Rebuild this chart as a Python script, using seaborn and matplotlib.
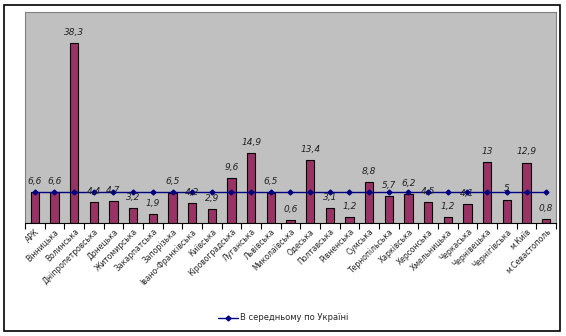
import matplotlib
matplotlib.use("Agg")
import matplotlib.pyplot as plt
import seaborn as sns
import numpy as np
import pandas as pd
from matplotlib.patches import Rectangle

regions = ["АРК", "Вінницька", "Волинська", "Дніпропетровська", "Донецька",
           "Житомирська", "Закарпатська", "Запорізька", "Івано-Франківська",
           "Київська", "Кіровоградська", "Луганська", "Львівська",
           "Миколаївська", "Одеська", "Полтавська", "Рівненська", "Сумська",
           "Тернопільська", "Харківська", "Херсонська", "Хмельницька",
           "Черкаська", "Чернівецька", "Чернігівська", "м.Київ",
           "м.Севастополь"]
values = [6.6, 6.6, 38.3, 4.4, 4.7, 3.2, 1.9, 6.5, 4.2, 2.9, 9.6, 14.9, 6.5,
          0.6, 13.4, 3.1, 1.2, 8.8, 5.7, 6.2, 4.5, 1.2, 4.1, 13, 5, 12.9, 0.8]
average = [6.6] * len(regions)
avg_label = "В середньому по Україні"

sns.set_theme(style="white")
plt.rcParams['font.family'] = ['DejaVu Sans']

fig = plt.figure(figsize=(5.66, 3.36), dpi=100)
ax = fig.add_axes([25/566, 1 - 223/336, (556-25)/566, (223-12)/336])
ax.set_facecolor("#C0C0C0")

df = pd.DataFrame({"region": regions, "value": values})
sns.barplot(data=df, x="region", y="value", color="#993366", width=0.42,
            edgecolor="black", linewidth=0.8, saturation=1, ax=ax)
x = np.arange(len(regions))
ax.plot(x, average, color="#000080", marker="D", markersize=2.5, linewidth=1.0,
        label=avg_label)

for xi, v in zip(x, values):
    txt = f"{v:g}".replace(".", ",")
    ax.text(xi, v + 1.3, txt, ha="center", va="bottom", fontsize=6.5,
            style="italic", color="#222222")

ax.set_ylim(0, 45)
ax.set_xlim(-0.5, len(regions) - 0.5)
ax.set_yticks([])
ax.set_xlabel("")
ax.set_ylabel("")
ax.set_xticks(x)
ax.set_xticklabels(regions, rotation=45, ha="right", rotation_mode="anchor",
                   fontsize=5.5)
ax.tick_params(axis="x", which="major", length=0, pad=3)
ax.set_xticks(np.arange(-0.5, len(regions)), minor=True)
ax.tick_params(axis="x", which="minor", length=4, width=0.8, color="black",
               bottom=True)
for s in ["top", "right", "left"]:
    ax.spines[s].set_color("#808080")
    ax.spines[s].set_linewidth(0.8)
ax.spines["bottom"].set_color("black")
ax.spines["bottom"].set_linewidth(0.8)

fig.legend(loc="center", bbox_to_anchor=(283/566, 1 - 318/336), frameon=False,
           fontsize=6, handlelength=2.5, handletextpad=0.2)

fig.patches.append(Rectangle((4/566, 5/336), (560-4)/566, (331-5)/336,
                             transform=fig.transFigure, fill=False,
                             edgecolor="black", linewidth=1.2))

fig.savefig("out.png", dpi=100)
